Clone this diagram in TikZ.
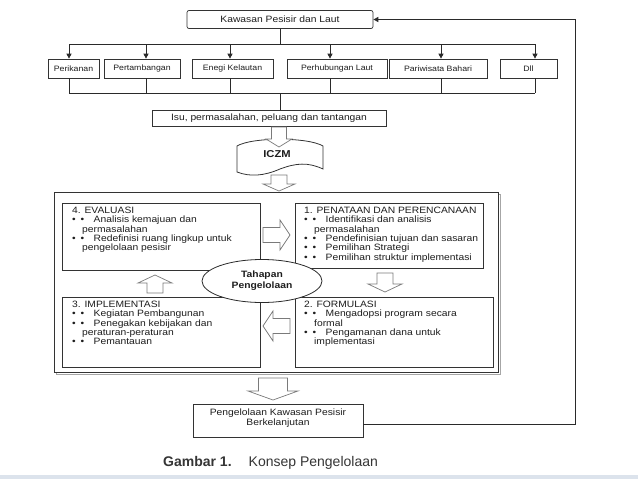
\documentclass[tikz,border=0pt]{standalone}
\usepackage{fontspec}
\setmainfont{Liberation Sans}[FakeStretch=1.12]
\newfontfamily\capfont{Liberation Sans}
\usetikzlibrary{arrows.meta,shapes.geometric}
\definecolor{ln}{HTML}{2A2A2A}
\definecolor{bx}{HTML}{333333}
\definecolor{ag}{HTML}{7A7A7A}
\definecolor{tx}{HTML}{1E1E1E}
\definecolor{strip}{HTML}{DCE3EC}
\newcommand\blkdown[6]{\filldraw[harrow] (#1-#4,#2) -- (#1+#4,#2) -- (#1+#4,#3-#6) -- (#1+#5,#3-#6) -- (#1,#3) -- (#1-#5,#3-#6) -- (#1-#4,#3-#6) -- cycle;}
\newcommand\blkup[6]{\filldraw[harrow] (#1,#2) -- (#1+#5,#2+#6) -- (#1+#4,#2+#6) -- (#1+#4,#3) -- (#1-#4,#3) -- (#1-#4,#2+#6) -- (#1-#5,#2+#6) -- cycle;}
\newcommand\blkright[6]{\filldraw[harrow] (#2,#1-#4) -- (#3-#6,#1-#4) -- (#3-#6,#1-#5) -- (#3,#1) -- (#3-#6,#1+#5) -- (#3-#6,#1+#4) -- (#2,#1+#4) -- cycle;}
\newcommand\blkleft[6]{\filldraw[harrow] (#2,#1-#4) -- (#3+#6,#1-#4) -- (#3+#6,#1-#5) -- (#3,#1) -- (#3+#6,#1+#5) -- (#3+#6,#1+#4) -- (#2,#1+#4) -- cycle;}
\newcommand\itm[2]{\makebox[8.5pt][l]{\textbullet}\makebox[13pt][l]{\textbullet}#1\ifx\relax#2\relax\else\\\hspace*{10pt}#2\fi}
\begin{document}
\begin{tikzpicture}[x=1pt,y=-1pt,
  every node/.style={font=\fontsize{9.2}{9.2}\selectfont, text=tx},
  sbox/.style={draw=bx, line width=0.7pt, inner sep=0pt, fill=white},
  secbox/.style={sbox, minimum height=19, font=\fontsize{7.8}{7.8}\selectfont},
  ibox/.style={draw=bx, line width=0.8pt, inner sep=0pt, anchor=north west, fill=white},
  itext/.style={anchor=north west, align=left, inner sep=0pt, font=\fontsize{9.2}{9.3}\selectfont},
  conn/.style={draw=ln, line width=0.8pt},
  tip/.style={-{Triangle[length=5pt,width=5pt]}},
  harrow/.style={draw=ag, fill=white, line width=0.7pt, line join=miter}]
\useasboundingbox (0,0) rectangle (638,479);
\fill[white] (0,0) rectangle (638,479);
\fill[strip] (0,475) rectangle (638,479);

% top box
\node[sbox, rounded corners=2pt, minimum width=186, minimum height=18] (kp) at (280,19.5) {Kawasan Pesisir dan Laut};

% sector boxes
\node[secbox, minimum width=51] (s1) at (73.5,68.5) {Perikanan};
\node[secbox, minimum width=76] (s2) at (142,68.5) {Pertambangan};
\node[secbox, minimum width=81] (s3) at (232.5,68.5) {Enegi Kelautan};
\node[secbox, minimum width=100] (s4) at (337,68.5) {Perhubungan Laut};
\node[secbox, minimum width=98] (s5) at (438,68.5) {Pariwisata Bahari};
\node[secbox, minimum width=57] (s6) at (528.5,68.5) {Dll};

% bus coordinates
\coordinate (t1) at (69,44); \coordinate (t2) at (146,44); \coordinate (t3) at (230,44);
\coordinate (t4) at (330,44); \coordinate (t5) at (441,44); \coordinate (t6) at (535,44);
\coordinate (b1) at (69,93); \coordinate (b2) at (146,93); \coordinate (b3) at (230,93);
\coordinate (b4) at (330,93); \coordinate (b5) at (441,93); \coordinate (b6) at (535,93);
\coordinate (tm) at (280,44); \coordinate (bm) at (280,93);

\draw[conn] (kp.south) -- (tm);
\draw[conn] (t1) -- (t6);
\foreach \i in {1,...,6} {
  \draw[conn, tip] (t\i) -- (t\i |- s\i.north);
  \draw[conn] (s\i.south -| b\i) -- (b\i);
}
\draw[conn] (b1) -- (b6);

% Isu box
\node[sbox, minimum width=234, minimum height=16] (isu) at (269,118.5) {Isu, permasalahan, peluang dan tantangan};
\draw[conn] (bm) -- (bm |- isu.north);

% ICZM shape
\draw[draw=bx, line width=0.8pt, fill=white] (237,146) .. controls (252,137) and (308,137) .. (323,146)
  -- (323,169) .. controls (308,162) and (296,163) .. (280,169) .. controls (264,176) and (250,177) .. (237,172) -- cycle;
\node[font=\bfseries\fontsize{10}{10}\selectfont] (iczm) at (277,154) {ICZM};
\blkdown{279}{127}{147}{7.5}{13}{8}

% big box
\draw[draw=gray!70, line width=1pt] (56,194) rectangle (500,374);
\draw[draw=bx, line width=0.8pt, fill=white] (54,192) rectangle (498,372);
\blkdown{279}{175}{191}{8}{16}{7}

% inner boxes
\node[ibox, minimum width=198, minimum height=67] (ev) at (62,203) {};
\node[ibox, minimum width=188, minimum height=65] (pn) at (295,203) {};
\node[ibox, minimum width=198, minimum height=70] (im) at (62,297) {};
\node[ibox, minimum width=198, minimum height=70] (fo) at (295,297) {};

\node[itext] (evt) at ([xshift=10pt,yshift=-4pt]ev.north west) {4. EVALUASI\\\itm{Analisis kemajuan dan}{permasalahan}\\\itm{Redefinisi ruang lingkup untuk}{pengelolaan pesisir}};
\node[itext] (pnt) at ([xshift=9pt,yshift=-4pt]pn.north west) {1. PENATAAN DAN PERENCANAAN\\\itm{Identifikasi dan analisis}{permasalahan}\\\itm{Pendefinisian tujuan dan sasaran}{}\\\itm{Pemilihan Strategi}{}\\\itm{Pemilihan struktur implementasi}{}};
\node[itext] (imt) at ([xshift=10pt,yshift=-4pt]im.north west) {3. IMPLEMENTASI\\\itm{Kegiatan Pembangunan}{}\\\itm{Penegakan kebijakan dan}{peraturan-peraturan}\\\itm{Pemantauan}{}};
\node[itext] (fot) at ([xshift=9pt,yshift=-4pt]fo.north west) {2. FORMULASI\\\itm{Mengadopsi program secara}{formal}\\\itm{Pengamanan dana untuk}{implementasi}};

% block arrows between stages
\blkright{235}{263}{290}{7.5}{15}{10}
\blkdown{385}{273}{292}{8}{17}{8}
\blkleft{326}{290}{263}{7.5}{15}{10}
\blkup{155}{275}{293}{8}{17}{8}

% ellipse
\node[ellipse, draw=ln, line width=0.8pt, fill=white, minimum width=120, minimum height=43, inner sep=0pt, align=center, font=\bfseries\fontsize{9.2}{11}\selectfont] (tah) at (262,281) {Tahapan\\Pengelolaan};

% bottom
\blkdown{273}{378}{400}{14.5}{25}{9}
\node[sbox, minimum width=170, minimum height=33] (pkb) at (278,421) {};
\node[align=center, inner sep=0pt, font=\fontsize{9.2}{9.5}\selectfont] (pkbt) at ([yshift=3pt]pkb.center) {Pengelolaan Kawasan Pesisir\\Berkelanjutan};
\coordinate (fx) at (575,0);
\draw[conn, tip] ([yshift=-3pt]pkb.east) -- ([yshift=-3pt]pkb.east -| fx) |- (kp.east);

% caption
\node[anchor=west, inner sep=0pt, text=tx!90, font=\capfont\fontsize{14}{14}\selectfont] (cap) at (163,463) {\textbf{Gambar 1.}\hspace{17pt}Konsep Pengelolaan};
\end{tikzpicture}
\end{document}
